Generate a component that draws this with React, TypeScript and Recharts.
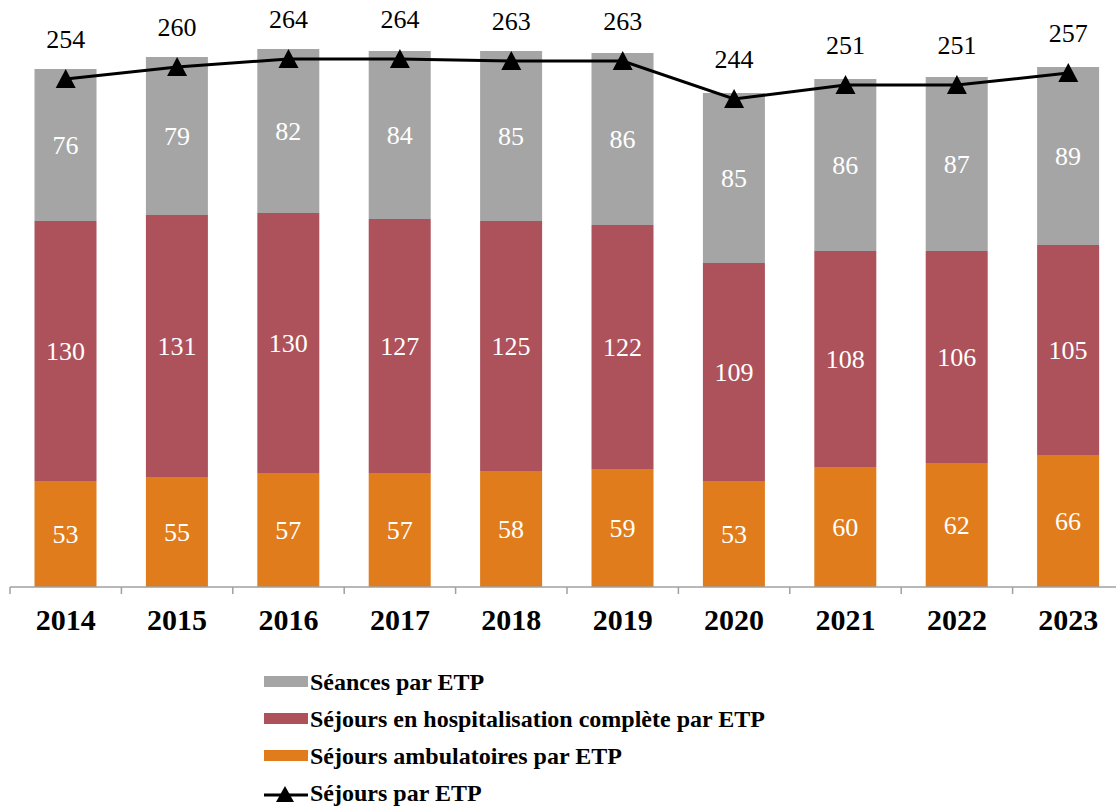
import { ComposedChart, Bar, Line, XAxis, YAxis, LabelList } from "recharts";

const years = ["2014", "2015", "2016", "2017", "2018", "2019", "2020", "2021", "2022", "2023"];
const ambulatoires = [53, 55, 57, 57, 58, 59, 53, 60, 62, 66];
const hospitalisation = [130, 131, 130, 127, 125, 122, 109, 108, 106, 105];
const seances = [76, 79, 82, 84, 85, 86, 85, 86, 87, 89];
const sejoursTotal = [254, 260, 264, 264, 263, 263, 244, 251, 251, 257];

const GREY = "#a5a5a5";
const RED = "#ad525b";
const ORANGE = "#e07c1c";
const FONT = "'Liberation Serif', 'Times New Roman', serif";

const data = years.map((y, i) => ({
  year: y,
  amb: ambulatoires[i],
  hosp: hospitalisation[i],
  sea: seances[i],
  total: sejoursTotal[i],
}));

const legendItems = [
  { label: "Séances par ETP", color: GREY, kind: "rect" },
  { label: "Séjours en hospitalisation complète par ETP", color: RED, kind: "rect" },
  { label: "Séjours ambulatoires par ETP", color: ORANGE, kind: "rect" },
  { label: "Séjours par ETP", color: "#000", kind: "line" },
];

function YearTick(props: any) {
  const { x, y, payload } = props;
  const band = 111.4;
  return (
    <g>
      <line x1={x - band / 2} y1={y - 8} x2={x - band / 2} y2={y - 1} stroke="#a0a0a0" strokeWidth={1.5} />
      <text x={x} y={y + 28} textAnchor="middle" dominantBaseline="middle" fontFamily={FONT} fontWeight="bold" fontSize={30} fill="#000">
        {payload.value}
      </text>
    </g>
  );
}

function Triangle(props: any) {
  const { cx, cy } = props;
  if (cx == null || cy == null) return null;
  return <polygon points={`${cx - 10},${cy + 9} ${cx + 10},${cy + 9} ${cx},${cy - 10}`} fill="#000" />;
}

function TotalLabel(props: any) {
  const { x, y, value } = props;
  return (
    <text x={x} y={y - 37} textAnchor="middle" dominantBaseline="middle" fontFamily={FONT} fontSize={26} fill="#000">
      {value}
    </text>
  );
}

function LegendBox() {
  return (
    <div style={{ position: "absolute", left: 262, top: 663, fontFamily: FONT, fontWeight: "bold", fontSize: 24, color: "#000", lineHeight: 1 }}>
      {legendItems.map((it) => (
        <div key={it.label} style={{ display: "flex", alignItems: "center", height: 37, whiteSpace: "nowrap" }}>
          <svg width={48} height={20}>
            {it.kind === "rect" ? (
              <rect x={2} y={4} width={44} height={11} fill={it.color} />
            ) : (
              <g>
                <line x1={2} y1={12} x2={46} y2={12} stroke="#000" strokeWidth={3} />
                <polygon points="14,19 32,19 23,3" fill="#000" />
              </g>
            )}
          </svg>
          <span>{it.label}</span>
        </div>
      ))}
    </div>
  );
}

export default function App() {
  const labelStyle = { fontFamily: FONT, fontSize: 26, fill: "#fff" };
  return (
    <div style={{ position: "absolute", left: 0, top: 0, width: 1116, height: 807, overflow: "hidden", background: "#fff" }}>
      <ComposedChart
        width={1130}
        height={807}
        data={data}
        margin={{ top: 7, right: 6, bottom: 160, left: 10 }}
        barCategoryGap="22%"
      >
        <XAxis
          dataKey="year"
          axisLine={{ stroke: "#a0a0a0", strokeWidth: 1.5 }}
          tickLine={false}
          tick={<YearTick />}
          height={60}
          interval={0}
        />
        <YAxis hide domain={[0, 290]} />
        <Bar dataKey="amb" stackId="a" fill={ORANGE} isAnimationActive={false}>
          <LabelList dataKey="amb" position="center" style={labelStyle} />
        </Bar>
        <Bar dataKey="hosp" stackId="a" fill={RED} isAnimationActive={false}>
          <LabelList dataKey="hosp" position="center" style={labelStyle} />
        </Bar>
        <Bar dataKey="sea" stackId="a" fill={GREY} isAnimationActive={false}>
          <LabelList dataKey="sea" position="center" style={labelStyle} />
        </Bar>
        <Line
          dataKey="total"
          stroke="#000"
          strokeWidth={3}
          dot={<Triangle />}
          activeDot={false}
          isAnimationActive={false}
        >
          <LabelList dataKey="total" content={<TotalLabel />} />
        </Line>
      </ComposedChart>
      <LegendBox />
    </div>
  );
}
